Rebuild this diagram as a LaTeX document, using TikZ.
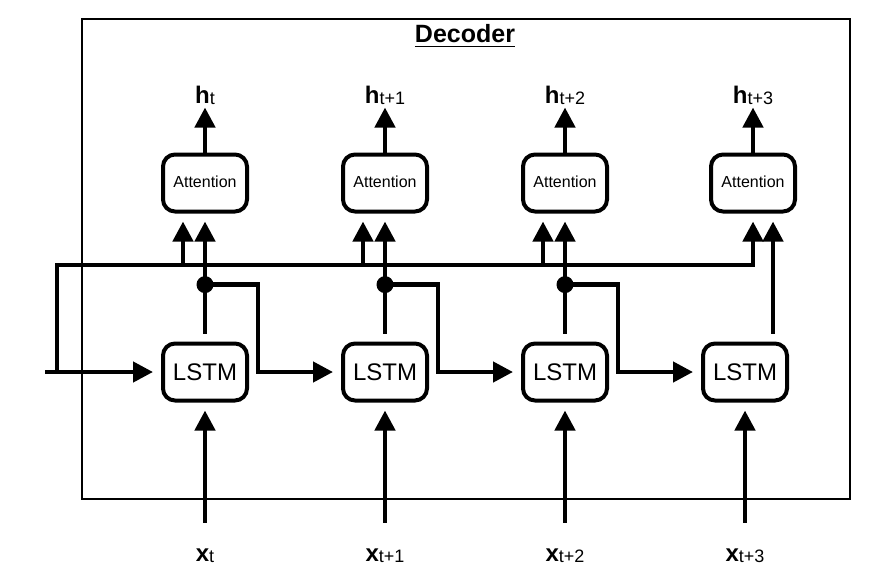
\documentclass[tikz,border=0pt]{standalone}
\usepackage{fontspec}
\setmainfont{Liberation Sans}
\usetikzlibrary{positioning,arrows.meta,calc}

\newcommand{\sublab}[2]{{\bfseries #1}{\fontsize{9}{9}\selectfont\mdseries\raisebox{-0.5pt}{#2}}}

\begin{document}
\begin{tikzpicture}[x=0.5pt,y=-0.5pt,
    cell/.style={draw,rounded corners=6pt,line width=2pt,minimum width=42pt,minimum height=28.5pt,inner sep=0pt},
    lstmcell/.style={cell,font=\fontsize{12}{12}\selectfont},
    attcell/.style={cell,font=\fontsize{8}{8}\selectfont},
    wire/.style={line width=2.2pt},
    arr/.style={wire,-{Triangle[width=10pt,length=10pt]},shorten >=4pt},
    dot/.style={circle,fill=black,inner sep=0pt,minimum size=8.5pt},
    lab/.style={font=\fontsize{12}{12}\selectfont,inner sep=1pt}]
            \useasboundingbox (0,0) rectangle (893,584);
            \draw[line width=1pt] (82,19) rectangle (850,499);
            \node (title) at (465,36) {\fontsize{12.5}{12.5}\selectfont\bfseries\underline{Decoder}};

            % lstm cells
            \node[lstmcell] (lstm1) at (205,372) {LSTM};
            \node[lstmcell] (lstm2) [right=46pt of lstm1] {LSTM};
            \node[lstmcell] (lstm3) [right=46pt of lstm2] {LSTM};
            \node[lstmcell] (lstm4) [right=46pt of lstm3] {LSTM};

            % attention cells
            \node[attcell] (att1) [above=64pt of lstm1] {\raisebox{1.5pt}{Attention}};
            \node[attcell] (att2) [above=64pt of lstm2] {\raisebox{1.5pt}{Attention}};
            \node[attcell] (att3) [above=64pt of lstm3] {\raisebox{1.5pt}{Attention}};
            \node[attcell] (att4) [above=64pt of lstm4, xshift=4pt] {\raisebox{1.5pt}{Attention}};

            \node[lab] (h1) [above=22.5pt of att1] {\sublab{h}{t}};
            \node[lab] (h2) [above=22.5pt of att2] {\sublab{h}{t+1}};
            \node[lab] (h3) [above=22.5pt of att3] {\sublab{h}{t+2}};
            \node[lab] (h4) [above=22.5pt of att4] {\sublab{h}{t+3}};

            \node[lab] (x1) [below=72pt of lstm1] {\sublab{x}{t}};
            \node[lab] (x2) [below=72pt of lstm2] {\sublab{x}{t+1}};
            \node[lab] (x3) [below=72pt of lstm3] {\sublab{x}{t+2}};
            \node[lab] (x4) [below=72pt of lstm4] {\sublab{x}{t+3}};

            \node[dot] (d1) [above=24pt of lstm1] {};
            \node[dot] (d2) [above=24pt of lstm2] {};
            \node[dot] (d3) [above=24pt of lstm3] {};

            \coordinate (in) at (45,372);
            \coordinate (bus) at (57,265);

            \draw[arr,shorten >=0pt] (att1) -- (h1);
            \draw[arr,shorten >=0pt] (att2) -- (h2);
            \draw[arr,shorten >=0pt] (att3) -- (h3);
            \draw[arr,shorten >=0pt] (att4) -- (h4);

            \draw[arr] ([yshift=12pt]x1.north) -- (lstm1);
            \draw[arr] ([yshift=12pt]x2.north) -- (lstm2);
            \draw[arr] ([yshift=12pt]x3.north) -- (lstm3);
            \draw[arr] ([yshift=12pt]x4.north) -- (lstm4);

            % input and bus to the attention cells
            \draw[arr] (in) -- (lstm1);
            \draw[arr] (bus |- in) -- (bus) -| (att4);
            \draw[arr] ([xshift=-11pt]att1.south |- bus) -- ([xshift=-11pt]att1.south);
            \draw[arr] ([xshift=-11pt]att2.south |- bus) -- ([xshift=-11pt]att2.south);
            \draw[arr] ([xshift=-11pt]att3.south |- bus) -- ([xshift=-11pt]att3.south);

            \draw[arr,shorten <=4pt] (lstm1) -- (att1);
            \draw[arr,shorten <=4pt] (lstm2) -- (att2);
            \draw[arr,shorten <=4pt] (lstm3) -- (att3);
            \draw[arr,shorten <=4pt] ([xshift=14pt]lstm4.north) -- ([xshift=14pt]lstm4.north |- att4.south);

            \draw[arr] (d1.center) -- ++(53,0) |- (lstm2);
            \draw[arr] (d2.center) -- ++(53,0) |- (lstm3);
            \draw[arr] (d3.center) -- ++(53,0) |- (lstm4);
        \end{tikzpicture}
\end{document}
